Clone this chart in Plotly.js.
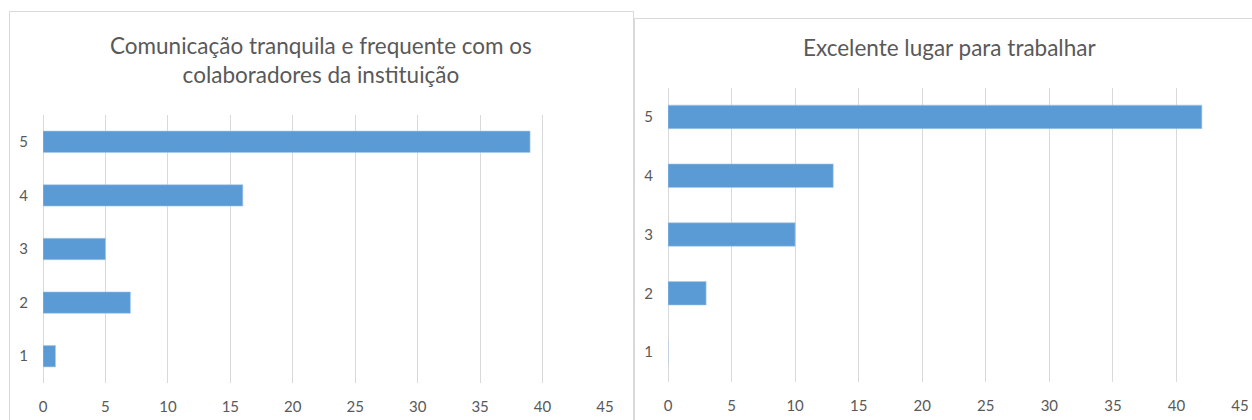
<!DOCTYPE html>
<html>
<head>
<meta charset="utf-8">
<script src="https://cdn.plot.ly/plotly-3.0.1.min.js"></script>
<style>html,body{margin:0;padding:0;background:#fff;}#chart{width:1252px;height:420px;}</style>
</head>
<body>
<div id="chart"></div>
<script>
var categories = [1, 2, 3, 4, 5];
var leftValues = [1, 7, 5, 16, 39];
var rightValues = [0, 3, 10, 13, 42];
var leftTitle = "Comunicação tranquila e frequente com os<br>colaboradores da instituição";
var rightTitle = "Excelente lugar para trabalhar";
var xTickVals = [0, 5, 10, 15, 20, 25, 30, 35, 40, 45];

var W = 1252, H = 420;
function px(x){ return x / W; }
function py(y){ return 1 - y / H; }

var barColor = "#5b9bd5";
var gridColor = "#d9d9d9";
var textColor = "#595959";
var fontFam = "Lato, 'Liberation Sans', sans-serif";

var traces = [
  {type: "bar", orientation: "h", y: categories, x: leftValues, width: 0.4,
   marker: {color: barColor, line: {color: "#a9c9ea", width: 0.6}}, xaxis: "x", yaxis: "y", hoverinfo: "x+y"},
  {type: "bar", orientation: "h", y: categories, x: rightValues, width: 0.4,
   marker: {color: barColor, line: {color: "#a9c9ea", width: 0.6}}, xaxis: "x2", yaxis: "y2", hoverinfo: "x+y"}
];

function xAxis(domain, anchor){
  return {domain: domain, anchor: anchor, range: [0, 45], tickvals: xTickVals,
    showgrid: true, gridcolor: gridColor, gridwidth: 1, zeroline: true, zerolinecolor: gridColor, zerolinewidth: 1,
    showline: false, ticks: "outside", ticklen: 10, tickcolor: "rgba(0,0,0,0)",
    tickfont: {family: fontFam, size: 15, color: textColor}, fixedrange: true};
}
function yAxis(domain, anchor){
  return {domain: domain, anchor: anchor, range: [0.5, 5.5], tickvals: categories,
    showgrid: false, zeroline: false, showline: false, ticks: "outside", ticklen: 11, tickcolor: "rgba(0,0,0,0)",
    tickfont: {family: fontFam, size: 15, color: textColor}, fixedrange: true};
}

var layout = {
  width: W, height: H,
  margin: {l: 0, r: 0, t: 0, b: 0},
  paper_bgcolor: "#ffffff", plot_bgcolor: "rgba(0,0,0,0)",
  showlegend: false,
  xaxis: xAxis([px(43), px(605)], "y"),
  yaxis: yAxis([py(383), py(115)], "x"),
  xaxis2: xAxis([px(668), px(1240)], "y2"),
  yaxis2: yAxis([py(381.5), py(87.5)], "x2"),
  annotations: [
    {text: leftTitle, xref: "paper", yref: "paper", x: px(321), y: py(60), xanchor: "center", yanchor: "middle",
     showarrow: false, font: {family: fontFam, size: 22.5, color: textColor}, align: "center"},
    {text: rightTitle, xref: "paper", yref: "paper", x: px(949), y: py(47), xanchor: "center", yanchor: "middle",
     showarrow: false, font: {family: fontFam, size: 22.5, color: textColor}, align: "center"}
  ],
  shapes: [
    {type: "rect", xref: "paper", yref: "paper", x0: px(9.5), x1: px(633.5), y0: -0.2, y1: py(11.5),
     line: {color: gridColor, width: 1}, layer: "below"},
    {type: "rect", xref: "paper", yref: "paper", x0: px(634.5), x1: 1.2, y0: -0.2, y1: py(18.5),
     line: {color: gridColor, width: 1}, layer: "below"}
  ]
};

Plotly.newPlot("chart", traces, layout, {displayModeBar: false, staticPlot: true});
</script>
</body>
</html>
